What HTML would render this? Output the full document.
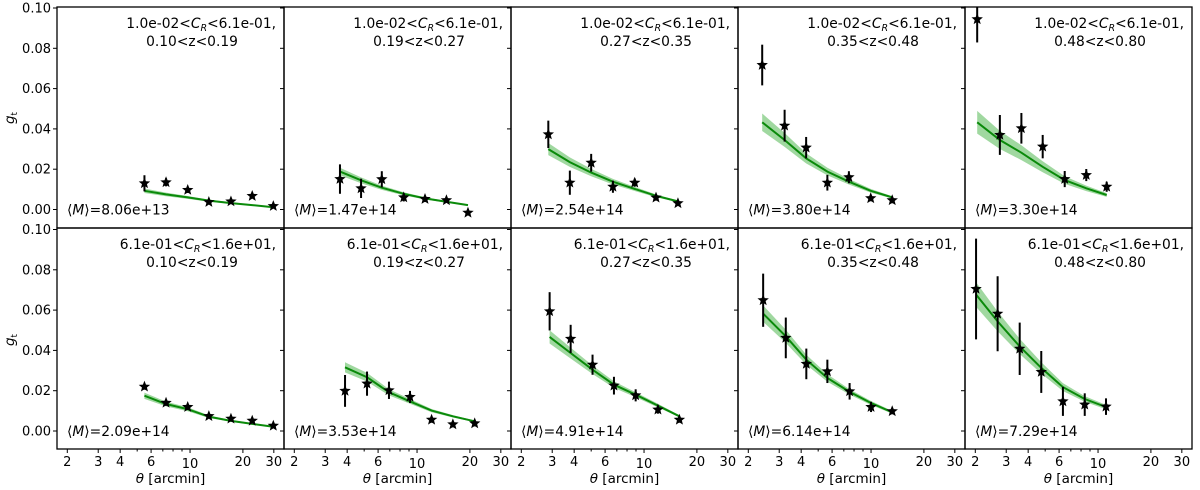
<!DOCTYPE html>
<html><head><meta charset="utf-8">
<style>
html,body{margin:0;padding:0;background:#fff;}
svg{display:block;font-family:"DejaVu Sans","Liberation Sans",sans-serif;}
</style></head>
<body>
<svg id="chart" width="1200" height="490" viewBox="0 0 1200 490"></svg>
<script>
const crLabels = ["1.0e-02<C_R<6.1e-01,","6.1e-01<C_R<1.6e+01,"];
const zLabels = ["0.10<z<0.19","0.19<z<0.27","0.27<z<0.35","0.35<z<0.48","0.48<z<0.80"];
const massLabels = ["8.06e+13","1.47e+14","2.54e+14","3.80e+14","3.30e+14","2.09e+14","3.53e+14","4.91e+14","6.14e+14","7.29e+14"];
const thetaVals = [
 [5.5,7.3,9.7,12.8,17.1,22.6,29.8],
 [3.64,4.8,6.3,8.4,11.1,14.7,19.5],
 [2.85,3.78,5.0,6.65,8.85,11.7,15.6],
 [2.4,3.22,4.27,5.64,7.48,9.96,13.2],
 [2.05,2.76,3.66,4.84,6.46,8.57,11.2],
 [5.5,7.3,9.7,12.8,17.1,22.6,29.8],
 [3.89,5.19,6.92,9.12,12.1,16.0,21.3],
 [2.9,3.82,5.09,6.74,8.96,12.0,15.9],
 [2.43,3.27,4.28,5.64,7.55,10.0,13.2],
 [2.02,2.68,3.58,4.75,6.31,8.4,11.1]
];
const gVals = [
 [0.013,0.0135,0.0097,0.0037,0.004,0.0067,0.0017],
 [0.0151,0.0105,0.015,0.006,0.0052,0.0046,-0.0016],
 [0.0373,0.0133,0.0232,0.0113,0.0133,0.0059,0.0031],
 [0.0717,0.0416,0.0307,0.0133,0.016,0.0056,0.0046],
 [0.0944,0.037,0.0403,0.0312,0.0151,0.0171,0.0113],
 [0.022,0.014,0.0119,0.0074,0.0061,0.0051,0.0026],
 [0.0199,0.0235,0.0202,0.0169,0.0056,0.0033,0.0038],
 [0.0594,0.0457,0.0329,0.0225,0.0177,0.0106,0.0056],
 [0.0649,0.0462,0.0333,0.0296,0.0197,0.0119,0.0098],
 [0.0705,0.0582,0.0408,0.0293,0.0147,0.0131,0.0121]
];
const gErr = [
 [0.004,0.002,0.0015,0.0012,0.0012,0.0012,0.001],
 [0.0073,0.0048,0.004,0.002,0.0015,0.0012,0.001],
 [0.0068,0.006,0.0044,0.003,0.002,0.0015,0.0012],
 [0.0101,0.0079,0.0053,0.0039,0.003,0.0015,0.0015],
 [0.0115,0.0099,0.0076,0.0058,0.004,0.003,0.0025],
 [0.0015,0.0015,0.0015,0.0012,0.0012,0.0012,0.001],
 [0.0079,0.006,0.0043,0.003,0.0015,0.0015,0.0015],
 [0.0095,0.007,0.005,0.0044,0.003,0.002,0.0015],
 [0.0132,0.0101,0.0076,0.0058,0.0041,0.0025,0.0015],
 [0.025,0.0186,0.013,0.0104,0.0072,0.0056,0.0041]
];
const modelVals = [
 [0.0093,0.0075,0.006,0.0044,0.0032,0.0022,0.0011],
 [0.0188,0.0145,0.0108,0.0078,0.0055,0.0038,0.0022],
 [0.030,0.0235,0.0183,0.0138,0.0102,0.0068,0.004],
 [0.0433,0.0345,0.0254,0.0188,0.0138,0.0093,0.006],
 [0.0433,0.0345,0.0282,0.0212,0.0146,0.0105,0.0072],
 [0.0175,0.0134,0.0108,0.0071,0.005,0.0035,0.0021],
 [0.0316,0.0267,0.0192,0.0147,0.0101,0.0073,0.0048],
 [0.0467,0.0387,0.0304,0.023,0.018,0.0126,0.0073],
 [0.0582,0.047,0.0354,0.0263,0.0194,0.0139,0.0093],
 [0.0677,0.0544,0.042,0.0313,0.0218,0.0159,0.0119]
];
const bandFrac = [0.12,0.1,0.1,0.1,0.13,0.09,0.08,0.07,0.07,0.09];
const xTicks = [2,3,4,5,6,7,8,9,10,20,30];
const xTickLabels = {2:"2",3:"3",4:"4",6:"6",10:"10",20:"20",30:"30"};
const yTicks = [0,0.02,0.04,0.06,0.08,0.10];
const yTickLabels = ["0.00","0.02","0.04","0.06","0.08","0.10"];

const NS="http://www.w3.org/2000/svg";
const svg=document.getElementById('chart');
function mk(tag,attrs,parent){const e=document.createElementNS(NS,tag);for(const k in attrs)e.setAttribute(k,attrs[k]);(parent||svg).appendChild(e);return e;}
const panelW=227, x0=57;
const rows=[{top:7,zero:209.5,bottom:228},{top:228,zero:431,bottom:449}];
const yScale=2015;
function xPos(col,v){return x0+col*panelW+10.3+175.6*(Math.log10(v)-Math.log10(2));}
function yPos(row,v){return rows[row].zero-v*yScale;}
function starPath(cx,cy,R,r){let d="";for(let i=0;i<10;i++){const a=-Math.PI/2+i*Math.PI/5;const rr=i%2?r:R;d+=(i?"L":"M")+(cx+rr*Math.cos(a)).toFixed(2)+","+(cy+rr*Math.sin(a)).toFixed(2);}return d+"Z";}

for(let p=0;p<10;p++){
  const row=Math.floor(p/5), col=p%5;
  const L=x0+col*panelW, T=rows[row].top, B=rows[row].bottom;
  const g=mk('g',{});
  
  
  const clipId='clip'+p;
  const cp=mk('clipPath',{id:clipId},g);
  mk('rect',{x:L,y:T,width:panelW,height:B-T},cp);
  const plot=mk('g',{'clip-path':'url(#'+clipId+')'},g);
  const th=thetaVals[p], m=modelVals[p], f=bandFrac[p];
  let up=th.map((t,i)=>xPos(col,t).toFixed(1)+","+yPos(row,m[i]*(1+f)).toFixed(1));
  let dn=th.map((t,i)=>xPos(col,t).toFixed(1)+","+yPos(row,m[i]*(1-f)).toFixed(1)).reverse();
  const band=mk('polygon',{points:up.concat(dn).join(" "),fill:"#8fd18f",opacity:"0.85"},plot);
  
  
  const line=mk('polyline',{points:th.map((t,i)=>xPos(col,t).toFixed(1)+","+yPos(row,m[i]).toFixed(1)).join(" "),fill:"none",stroke:"#0a8a0a","stroke-width":"2"},plot);
  
  
  for(let i=0;i<th.length;i++){
    const cx=xPos(col,th[i]), v=gVals[p][i], e=gErr[p][i];
    const eb=mk('line',{x1:cx,x2:cx,y1:yPos(row,v+e),y2:yPos(row,v-e),stroke:"#000","stroke-width":"2"},plot);
    
    
    const st=mk('path',{d:starPath(cx,yPos(row,v),6,2.6),fill:"#000"},plot);
    
    
  }
  const fr=mk('rect',{x:L,y:T,width:panelW,height:B-T,fill:"none",stroke:"#000","stroke-width":"1.3"},g);
  
  
  yTicks.forEach((v,k)=>{
    const y=yPos(row,v);
    if(y<T-1||y>B) return;
    mk('line',{x1:L-4,x2:L,y1:y,y2:y,stroke:"#000","stroke-width":"1"},g);
    if(col===0){
      const t=mk('text',{x:L-6,y:y+4.5,'text-anchor':'end','font-size':'13',fill:'#000'},g);
      t.textContent=yTickLabels[k];
      
      
    }
  });
  if(row===1){
    xTicks.forEach(v=>{
      const x=xPos(col,v);
      const major=xTickLabels[v]!==undefined;
      mk('line',{x1:x,x2:x,y1:B,y2:B+(major?4:2.5),stroke:"#000","stroke-width":"1"},g);
      if(major){
        const t=mk('text',{x:x,y:B+(v===10?19:17),'text-anchor':'middle','font-size':'13',fill:'#000'},g);
        t.textContent=xTickLabels[v];
        
        
      }
    });
    const xl=mk('text',{x:L+panelW/2,y:483,'text-anchor':'middle','font-size':'13.5',fill:'#000'},g);
    xl.innerHTML='<tspan font-style="italic">θ</tspan> [arcmin]';
    
    
  }
  const cr=crLabels[row].split("C_R");
  const a1=mk('text',{x:L+panelW-8,y:T+21,'text-anchor':'end','font-size':'13.8',fill:'#000'},g);
  a1.innerHTML=cr[0]+'<tspan font-style="italic">C</tspan><tspan font-style="italic" font-size="9.5" dy="3">R</tspan><tspan dy="-3">'+cr[1]+'</tspan>';
  
  
  const a2=mk('text',{x:L+135,y:T+39,'text-anchor':'middle','font-size':'13.8',fill:'#000'},g);
  a2.textContent=zLabels[col];
  
  
  const ml=mk('text',{x:L+10,y:rows[row].zero+5,'font-size':'13.8',fill:'#000'},g);
  ml.innerHTML='⟨<tspan font-style="italic">M</tspan>⟩='+massLabels[p];
  
  
}
[118,340].forEach(cy=>{
  const t=mk('text',{x:0,y:0,'text-anchor':'middle','font-size':'13.5',fill:'#000',transform:'translate(14,'+cy+') rotate(-90)'});
  t.innerHTML='<tspan font-style="italic">g</tspan><tspan font-size="9" dy="3">t</tspan>';
  
  
});
</script>
</body></html>
